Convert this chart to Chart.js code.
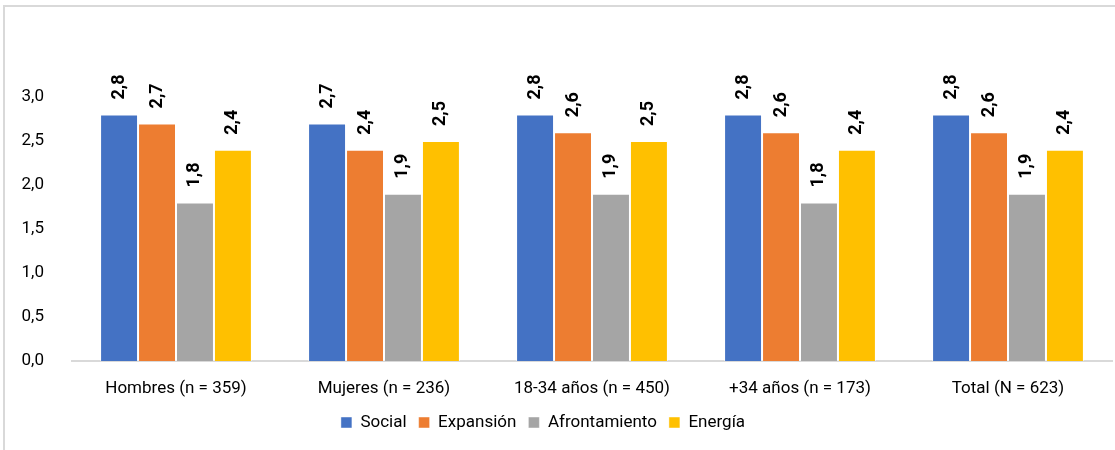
<!DOCTYPE html>
<html>
<head>
<meta charset="utf-8">
<script src="https://cdn.jsdelivr.net/npm/chart.js@4"></script>
<style>
  html, body { margin: 0; padding: 0; background: #fff; }
  #wrap { position: relative; width: 1115px; height: 450px; overflow: hidden; }
  #frame { position: absolute; left: 3px; top: 5px; width: 1120px; height: 460px;
           border-left: 2px solid #d9d9d9; border-top: 2px solid #d9d9d9; }
  canvas { position: absolute; left: 0; top: 0; }
</style>
</head>
<body>
<div id="wrap">
  <div id="frame"></div>
  <canvas id="chart" width="1115" height="450"></canvas>
</div>
<script>
const categories = ['Hombres (n = 359)', 'Mujeres (n = 236)', '18-34 años (n = 450)', '+34 años (n = 173)', 'Total (N = 623)'];
const social = [2.8, 2.7, 2.8, 2.8, 2.8];
const expansion = [2.7, 2.4, 2.6, 2.6, 2.6];
const afrontamiento = [1.8, 1.9, 1.9, 1.8, 1.9];
const energia = [2.4, 2.5, 2.5, 2.4, 2.4];
const yTicks = [0, 0.5, 1, 1.5, 2, 2.5, 3];

const fmt = v => v.toFixed(1).replace('.', ',');

// rotated value labels above each bar
const barLabels = {
    id: 'barLabels',
    afterDatasetsDraw(chart) {
        const ctx = chart.ctx;
        ctx.save();
        ctx.font = 'bold 18px Roboto';
        ctx.fillStyle = '#000';
        ctx.textAlign = 'left';
        ctx.textBaseline = 'middle';
        chart.data.datasets.forEach((ds, i) => {
            chart.getDatasetMeta(i).data.forEach((bar, j) => {
                ctx.save();
                ctx.translate(bar.x, bar.y - 15);
                ctx.rotate(-Math.PI / 2);
                ctx.fillText(fmt(ds.data[j]), 0, 0);
                ctx.restore();
            });
        });
        ctx.restore();
    }
};

// legend sits a bit left of the canvas centre in the original
const legendShift = {
    id: 'legendShift',
    afterLayout(chart) {
        chart.legend.left -= 13;
        chart.legend.right -= 13;
    }
};

const mk = (label, data, color) => ({
    label, data,
    backgroundColor: color,
    borderColor: 'rgba(255,255,255,0.6)',
    borderWidth: { left: 1, right: 1, top: 1 },
    categoryPercentage: 0.73,
    barPercentage: 1
});

new Chart(document.getElementById('chart').getContext('2d'), {
    type: 'bar',
    data: {
        labels: categories,
        datasets: [
            mk('Social', social, '#4472C4'),
            mk('Expansión', expansion, '#ED7D31'),
            mk('Afrontamiento', afrontamiento, '#A5A5A5'),
            mk('Energía', energia, '#FFC000')
        ]
    },
    options: {
        responsive: false,
        animation: false,
        layout: { padding: { top: 97, right: 3, bottom: 9, left: 0 } },
        scales: {
            y: {
                min: 0, max: 3,
                afterBuildTicks: s => { s.ticks = yTicks.map(v => ({ value: v })); },
                afterFit: s => { s.width = 72; },
                grid: { display: false },
                border: { display: false },
                ticks: {
                    padding: 20,
                    color: '#000',
                    font: { family: 'Roboto', size: 17 },
                    callback: v => fmt(v)
                }
            },
            x: {
                afterFit: s => { s.height = 41; },
                grid: { display: false },
                border: { color: '#d9d9d9', width: 2 },
                ticks: {
                    padding: 10,
                    color: '#000',
                    font: { family: 'Roboto', size: 17 }
                }
            }
        },
        plugins: {
            legend: {
                position: 'bottom',
                labels: {
                    boxWidth: 11,
                    boxHeight: 11,
                    padding: 12,
                    color: '#000',
                    font: { family: 'Roboto', size: 17 }
                }
            },
            tooltip: { enabled: false }
        }
    },
    plugins: [barLabels, legendShift]
});
</script>
</body>
</html>
